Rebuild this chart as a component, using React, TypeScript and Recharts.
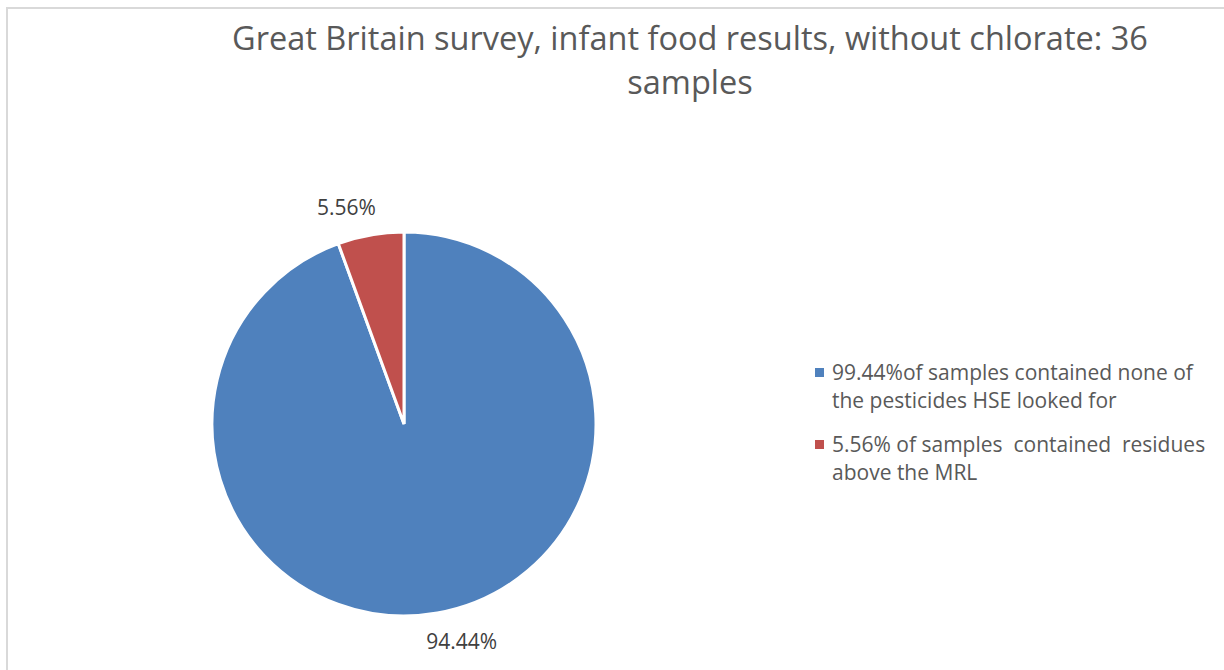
import React from "react";
import { PieChart, Pie, Cell, Legend } from "recharts";

const categories = [
  "99.44%of samples contained none of the pesticides HSE looked for",
  "5.56% of samples  contained  residues above the MRL",
];
const values = [94.44, 5.56];
const valueLabels = ["94.44%", "5.56%"];
const colors = ["#4F81BD", "#C0504D"];
const titleLines = [
  "Great Britain survey, infant food results, without chlorate: 36",
  "samples",
];

const data = categories.map((name, i) => ({ name, value: values[i], label: valueLabels[i] }));

const FONT = "'Open Sans', sans-serif";
const RAD = Math.PI / 180;

const renderLabel = (props: any) => {
  const { cx, cy, midAngle, outerRadius, index } = props;
  const r = outerRadius + 30;
  const c = Math.cos(-midAngle * RAD);
  const s = Math.sin(-midAngle * RAD);
  const x = cx + r * c + (c >= 0 ? 19 : -19);
  const y = cy + r * s + (s >= 0 ? -2 : 2);
  return (
    <text
      x={x}
      y={y}
      textAnchor="middle"
      dominantBaseline="central"
      fill="#404040"
      fontFamily={FONT}
      fontSize={21}
    >
      {valueLabels[index]}
    </text>
  );
};

const renderLegend = () => (
  <div style={{ fontFamily: FONT, fontSize: 21, color: "#595959", lineHeight: "28px", whiteSpace: "pre-wrap" }}>
    {data.map((d, i) => (
      <div key={i} style={{ position: "relative", paddingLeft: 20, marginBottom: 16, width: 385 }}>
        <span
          style={{
            position: "absolute",
            left: 3,
            top: 10,
            width: 9,
            height: 9,
            background: colors[i],
          }}
        />
        {d.name}
      </div>
    ))}
  </div>
);

export default function App() {
  return (
    <div style={{ position: "absolute", left: 0, top: 0, width: 1224, height: 670, background: "#fff", overflow: "hidden" }}>
      <div
        style={{
          position: "absolute",
          left: 6,
          top: 7,
          width: 1230,
          height: 680,
          borderTop: "2px solid #d9d9d9",
          borderLeft: "2px solid #d9d9d9",
        }}
      />
      <div
        style={{
          position: "absolute",
          left: 0,
          top: 16,
          width: 1380,
          textAlign: "center",
          fontFamily: FONT,
          fontSize: 32.5,
          lineHeight: "44px",
          color: "#595959",
        }}
      >
        {titleLines.map((t, i) => (
          <div key={i}>{t}</div>
        ))}
      </div>
      <div style={{ position: "absolute", left: 0, top: 0 }}>
        <PieChart width={1224} height={670}>
          <Pie
            data={data}
            dataKey="value"
            nameKey="name"
            cx={399}
            cy={419}
            outerRadius={192}
            startAngle={90}
            endAngle={-270}
            stroke="#fff"
            strokeWidth={3}
            label={renderLabel}
            labelLine={false}
            isAnimationActive={false}
          >
            {data.map((d, i) => (
              <Cell key={i} fill={colors[i]} />
            ))}
          </Pie>
          <Legend
            content={renderLegend}
            layout="vertical"
            wrapperStyle={{ position: "absolute", left: 812, top: 358, width: 420 }}
          />
        </PieChart>
      </div>
    </div>
  );
}
